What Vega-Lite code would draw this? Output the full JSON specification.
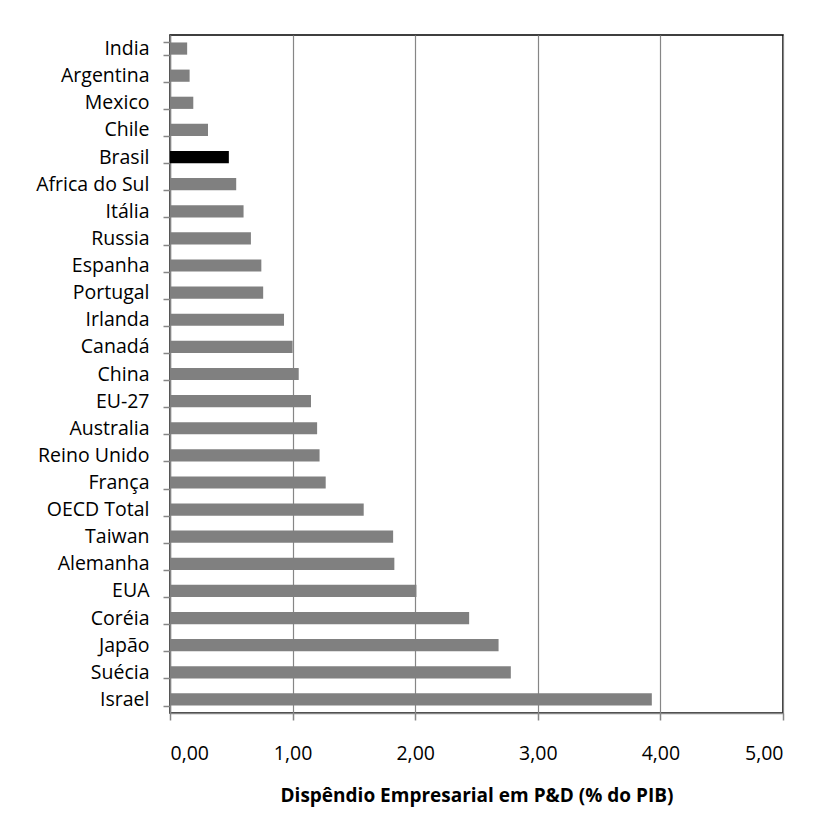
{
  "$schema": "https://vega.github.io/schema/vega-lite/v6.json",
  "width": 613,
  "height": 678,
  "autosize": "none",
  "padding": {"left": 170, "top": 35, "right": 32, "bottom": 115},
  "background": "white",
  "data": {
    "values": [
      {"country": "India", "value": 0.14},
      {"country": "Argentina", "value": 0.16},
      {"country": "Mexico", "value": 0.19},
      {"country": "Chile", "value": 0.31},
      {"country": "Brasil", "value": 0.48},
      {"country": "Africa do Sul", "value": 0.54},
      {"country": "Itália", "value": 0.60},
      {"country": "Russia", "value": 0.66},
      {"country": "Espanha", "value": 0.745},
      {"country": "Portugal", "value": 0.76},
      {"country": "Irlanda", "value": 0.93},
      {"country": "Canadá", "value": 1.00},
      {"country": "China", "value": 1.05},
      {"country": "EU-27", "value": 1.15},
      {"country": "Australia", "value": 1.20},
      {"country": "Reino Unido", "value": 1.22},
      {"country": "França", "value": 1.27},
      {"country": "OECD Total", "value": 1.58},
      {"country": "Taiwan", "value": 1.82},
      {"country": "Alemanha", "value": 1.83},
      {"country": "EUA", "value": 2.01},
      {"country": "Coréia", "value": 2.44},
      {"country": "Japão", "value": 2.68},
      {"country": "Suécia", "value": 2.78},
      {"country": "Israel", "value": 3.93}
    ]
  },
  "mark": {"type": "bar"},
  "encoding": {
    "y": {
      "field": "country",
      "type": "nominal",
      "sort": null,
      "scale": {"paddingInner": 0.55, "paddingOuter": 0.275},
      "axis": {
        "title": null,
        "tickBand": "extent",
        "domainColor": "#868686",
        "domainWidth": 1.5,
        "tickColor": "#868686",
        "tickWidth": 1.5,
        "tickSize": 7,
        "labelFont": "Open Sans",
        "labelFontSize": 19.5,
        "labelColor": "#000000",
        "labelPadding": 14,
        "grid": false
      }
    },
    "x": {
      "field": "value",
      "type": "quantitative",
      "scale": {"domain": [0, 5], "nice": false},
      "axis": {
        "values": [0, 1, 2, 3, 4, 5],
        "labelExpr": "replace(format(datum.value, '.2f'), '.', ',')",
        "title": "Dispêndio Empresarial em P&D (% do PIB)",
        "titleFont": "Open Sans",
        "titleFontSize": 19,
        "titleFontWeight": "bold",
        "titleColor": "#000000",
        "titlePadding": 24,
        "grid": true,
        "gridColor": "#868686",
        "gridWidth": 1.2,
        "domainColor": "#868686",
        "domainWidth": 1.5,
        "tickColor": "#868686",
        "tickWidth": 1.5,
        "tickSize": 7,
        "labelFont": "Open Sans",
        "labelFontSize": 19.5,
        "labelColor": "#000000",
        "labelPadding": 24
      }
    },
    "color": {
      "condition": {"test": "datum.country === 'Brasil'", "value": "#000000"},
      "value": "#808080"
    }
  },
  "config": {
    "view": {"stroke": "#000000", "strokeWidth": 1.5}
  }
}
